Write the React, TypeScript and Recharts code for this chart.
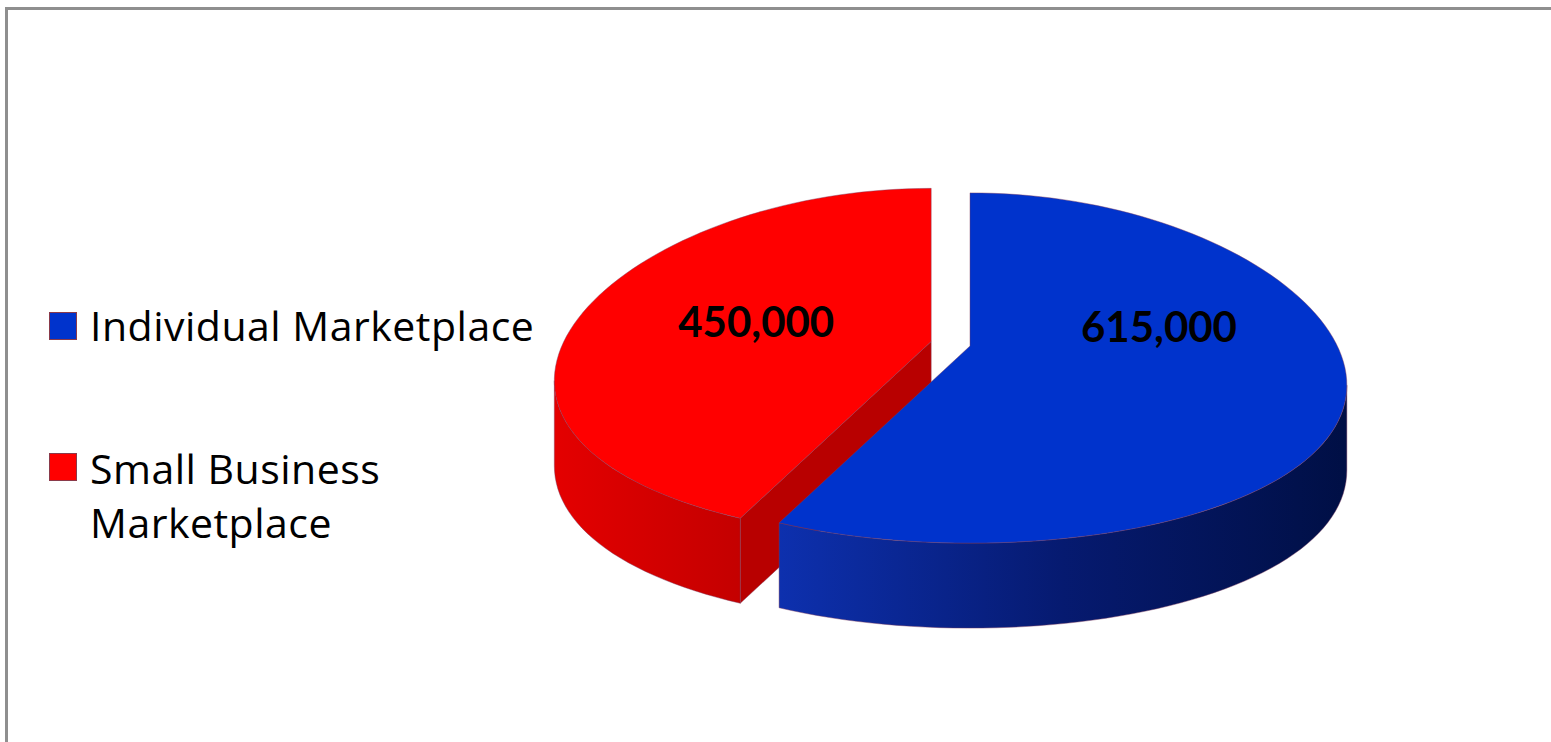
import { Legend, Pie, PieChart } from "recharts";

// enrollment by marketplace
const categories = ["Individual Marketplace", "Small Business Marketplace"];
const enrollments = [615000, 450000];
const sliceColors = ["#0033cc", "#ff0000"];

// side / cut-face shading for the fake 3d look, same order as categories
const wallStops = [
  ["#0d30ae", "#061a70", "#000f45"],
  ["#e40000", "#d40000", "#c40000"],
];
const faceColors = ["#001a80", "#b80000"];
const explode = [0, 40];

// red goes first so it gets painted behind the blue slice
const pieData = categories
  .map((name, i) => ({ name, value: enrollments[i], fill: sliceColors[i] }))
  .reverse();

const TILT = 0.467;
const DEPTH = 85;
const LIFT = 22;
const PERSP = 0.1; // front of the disc a bit wider than the back
const RAD = Math.PI / 180;
const FONT = "Lato, 'Open Sans', sans-serif";
const LEGEND_FONT = "'Open Sans', Lato, sans-serif";

const edge = { stroke: "#7d3b5e", strokeWidth: 0.8, strokeOpacity: 0.55 };

// angle (deg) past 180 / before 360 where the squeezed rim is widest
const SIL = (() => {
  let a = -PERSP;
  for (let i = 0; i < 6; i++) {
    const f = -Math.sin(a) - PERSP * Math.cos(2 * a);
    const df = -Math.cos(a) + 2 * PERSP * Math.sin(2 * a);
    a -= f / df;
  }
  return Math.abs(a) / RAD;
})();

function sliceOrigin(name: string, cx: number, cy: number, mid: number) {
  const k = categories.indexOf(name);
  const off = explode[k] || 0;
  return {
    k,
    ox: cx + off * Math.cos(mid * RAD),
    oy: cy - off * TILT * Math.sin(mid * RAD),
  };
}

function Slice3D(props: any) {
  const { cx, cy, outerRadius: r, startAngle, endAngle } = props;
  const name = props.payload?.name ?? props.name;
  const s = Math.min(startAngle, endAngle);
  const e = Math.max(startAngle, endAngle);
  const { k, ox, oy } = sliceOrigin(name, cx, cy, (s + e) / 2);
  const ry = r * TILT;
  const px = (a: number) =>
    ox + r * Math.cos(a * RAD) * (1 - PERSP * Math.sin(a * RAD));
  const py = (a: number, d = 0) => oy - ry * Math.sin(a * RAD) + d;
  const pt = (a: number, d = 0) => `${px(a)},${py(a, d)}`;
  const apex = (d = 0) => `${ox},${oy - LIFT + d}`;

  // rim traced as a polyline so the perspective squeeze follows the curve
  const rim = (a1: number, a2: number, d = 0) => {
    const n = Math.max(2, Math.ceil(Math.abs(a2 - a1) / 2));
    const pts: string[] = [];
    for (let i = 0; i <= n; i++) pts.push(pt(a1 + ((a2 - a1) * i) / n, d));
    return pts.join(" L");
  };

  const faces: number[] = [];
  if (Math.cos(s * RAD) > 1e-6) faces.push(s);
  if (Math.cos(e * RAD) < -1e-6) faces.push(e);

  const walls: [number, number][] = [];
  for (const base of [-180, 180, 540]) {
    const w1 = Math.max(s, base + SIL);
    const w2 = Math.min(e, base + 180 - SIL);
    if (w2 - w1 > 0.01) walls.push([w1, w2]);
  }

  const gid = `wall-grad-${k}`;

  return (
    <g>
      <defs>
        <linearGradient id={gid} x1="0" y1="0" x2="1" y2="0">
          <stop offset="0%" stopColor={wallStops[k][0]} />
          <stop offset="50%" stopColor={wallStops[k][1]} />
          <stop offset="100%" stopColor={wallStops[k][2]} />
        </linearGradient>
      </defs>
      {faces.map((a) => (
        <path
          key={`f${a}`}
          d={`M${apex()} L${pt(a)} L${pt(a, DEPTH)} L${apex(DEPTH)} Z`}
          fill={faceColors[k]}
          {...edge}
        />
      ))}
      {walls.map(([w1, w2]) => (
        <path
          key={`w${w1}`}
          d={`M${rim(w1, w2)} L${rim(w2, w1, DEPTH)} Z`}
          fill={`url(#${gid})`}
          {...edge}
        />
      ))}
      <path d={`M${apex()} L${rim(s, e)} Z`} fill={sliceColors[k]} {...edge} />
    </g>
  );
}

const renderValue = (p: any) => {
  const name = p.payload?.name ?? p.name;
  const { ox, oy } = sliceOrigin(name, p.cx, p.cy, p.midAngle);
  const m = p.midAngle * RAD;
  const x = ox + 0.5 * p.outerRadius * Math.cos(m) * (1 - 0.16 * Math.sin(m));
  const y = oy - LIFT - 20;
  return (
    <text
      x={x}
      y={y}
      textAnchor="middle"
      dominantBaseline="central"
      fontFamily={FONT}
      fontWeight={700}
      fontSize={42}
      fill="#000"
    >
      {Number(p.value).toLocaleString("en-US")}
    </text>
  );
};

const renderLegend = (props: any) => {
  const items = [...(props.payload || [])].sort(
    (a: any, b: any) => categories.indexOf(a.value) - categories.indexOf(b.value)
  );
  return (
    <div
      style={{
        fontFamily: LEGEND_FONT,
        fontSize: 41,
        letterSpacing: 0.5,
        lineHeight: "54px",
        color: "#000",
      }}
    >
      {items.map((it: any, i: number) => (
        <div
          key={it.value}
          style={{ display: "flex", alignItems: "flex-start", marginTop: i === 0 ? 0 : 89 }}
        >
          <span
            style={{
              width: 26,
              height: 26,
              marginTop: i === 0 ? 14 : 12,
              marginRight: 13,
              background: it.color,
              border: "1px solid #8a3a4a",
              flex: "none",
            }}
          />
          <span style={{ width: 470 }}>{it.value}</span>
        </div>
      ))}
    </div>
  );
};

export default function App() {
  return (
    <div
      style={{
        position: "absolute",
        left: 0,
        top: 0,
        width: 1551,
        height: 742,
        overflow: "hidden",
        background: "#fff",
      }}
    >
      <div
        style={{
          position: "absolute",
          left: 5,
          top: 7,
          width: 1600,
          height: 800,
          borderLeft: "3px solid #8f8f8f",
          borderTop: "3px solid #8f8f8f",
        }}
      />
      <PieChart
        width={1551}
        height={742}
        margin={{ top: 0, right: 0, bottom: 0, left: 0 }}
        style={{ position: "absolute", left: 0, top: 0 }}
      >
        <Pie
          data={pieData}
          dataKey="value"
          nameKey="name"
          cx={970}
          cy={368}
          outerRadius={375}
          startAngle={90}
          endAngle={450}
          stroke="none"
          shape={Slice3D}
          label={renderValue}
          labelLine={false}
          isAnimationActive={false}
        />
        <Legend
          layout="vertical"
          align="center"
          verticalAlign="middle"
          content={renderLegend}
          wrapperStyle={{ left: 49, top: 298, width: 540 }}
        />
      </PieChart>
    </div>
  );
}
